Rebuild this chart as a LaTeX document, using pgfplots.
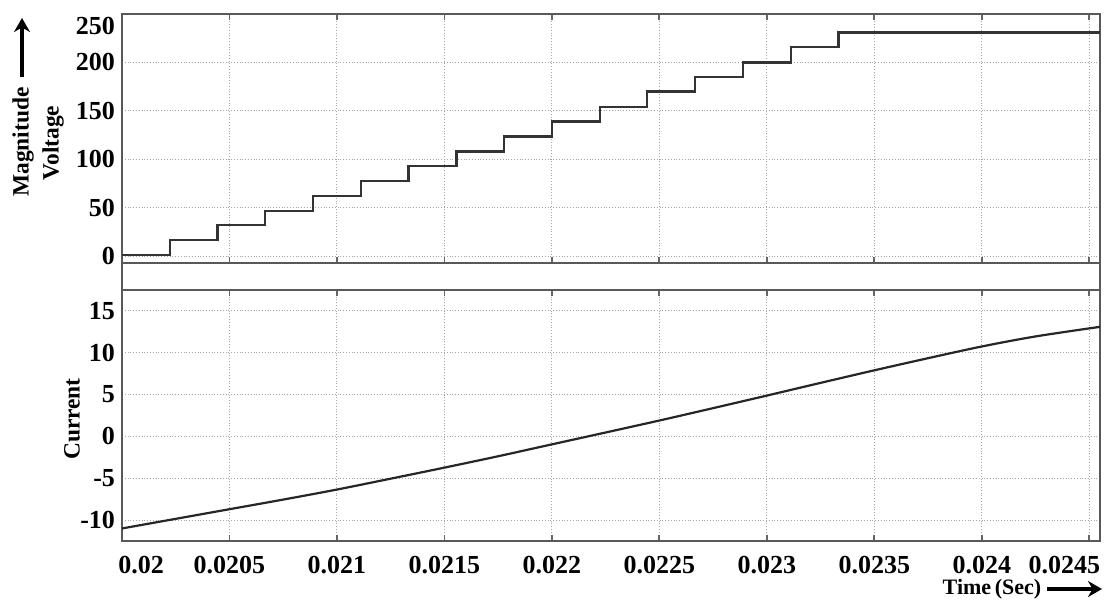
\documentclass[border=0pt]{standalone}
\usepackage{pgfplots}
\pgfplotsset{compat=1.18}
\usepackage{fontspec}
\setmainfont{Liberation Serif}
\usetikzlibrary{arrows.meta}
\begin{document}
\begin{tikzpicture}
\useasboundingbox (0,0) rectangle (552.5pt,-300.5pt);
\pgfplotsset{
  scope frame/.style={
    scale only axis, width=489pt,
    xmin=0.02, xmax=0.02455,
    scaled x ticks=false, scaled y ticks=false,
    xtick={0.02,0.0205,0.021,0.0215,0.022,0.0225,0.023,0.0235,0.024,0.0245},
    grid=major,
    major grid style={densely dotted, line width=0.5pt, black!35},
    axis line style={black!65, line width=0.9pt},
    xtick style={black!60, line width=0.9pt},
    ytick style={draw=none},
    major tick length=3pt,
    tick align=inside,
    xtick pos=both,
    tick label style={font=\fontsize{13}{15}\selectfont\bfseries},
  }
}
% Upper: voltage magnitude
\begin{axis}[scope frame,
  at={(61pt,-7pt)}, anchor=north west,
  height=124.5pt,
  ymin=-7, ymax=250,
  ytick={0,50,100,150,200,250},
  yticklabels={0,50,100,150,200,\raisebox{-10.4pt}[0pt][0pt]{250}},
  xticklabels={},
]
\addplot[const plot, black!80, line width=1.1pt] coordinates {
(0.02,1.5) (0.020222,17) (0.020444,32) (0.020667,47) (0.020889,62)
(0.021111,78) (0.021333,93) (0.021556,108) (0.021778,123.5) (0.022,139)
(0.022222,154) (0.022444,170) (0.022667,185) (0.022889,200) (0.023111,216)
(0.023333,231) (0.02455,231)
};
\end{axis}
% Lower: current
\begin{axis}[scope frame,
  at={(61pt,-145pt)}, anchor=north west,
  height=125.5pt,
  ymin=-12.5, ymax=17.5,
  ytick={-10,-5,0,5,10,15},
  yticklabels={-10,-5,0,5,10,15},
  xticklabels={\hspace*{19pt}0.02,0.0205,0.021,0.0215,0.022,0.0225,0.023,0.0235,0.024,0.0245\hspace*{25pt}},
  xticklabel style={yshift=-4pt},
]
\addplot[smooth, black!85, line width=1.1pt] coordinates {
(0.02,-11.0) (0.02025,-9.85) (0.0205,-8.7) (0.02075,-7.55) (0.021,-6.35)
(0.02125,-5.05) (0.0215,-3.73) (0.02175,-2.37) (0.022,-0.95) (0.02225,0.47)
(0.0225,1.9) (0.02275,3.38) (0.023,4.88) (0.02325,6.4) (0.0235,7.9)
(0.02375,9.35) (0.024,10.75) (0.02425,11.95) (0.02455,13.1)
};
\end{axis}
% frame continuation in the gap
\draw[black!65, line width=0.9pt] (61pt,-131.5pt) -- (61pt,-145pt);
\draw[black!65, line width=0.9pt] (550pt,-131.5pt) -- (550pt,-145pt);
% labels
\node[rotate=90, font=\fontsize{11.7}{13}\selectfont\bfseries] at (11.5pt,-71pt) {Magnitude};
\node[rotate=90, font=\fontsize{11.7}{13}\selectfont\bfseries] at (26.5pt,-71.5pt) {Voltage};
\draw[line width=2pt, -{Stealth[length=7pt, width=8pt]}] (11pt,-38.5pt) -- (11pt,-9pt);
\node[rotate=90, font=\fontsize{11.7}{13}\selectfont\bfseries] at (36pt,-209.5pt) {Current};
\node[font=\fontsize{11}{13}\selectfont\bfseries, inner sep=0pt] at (496pt,-294.5pt) {Time\,(Sec)};
\draw[line width=2pt, -{Stealth[length=7pt, width=8pt]}] (523.5pt,-294.5pt) -- (551pt,-294.5pt);
\end{tikzpicture}
\end{document}
